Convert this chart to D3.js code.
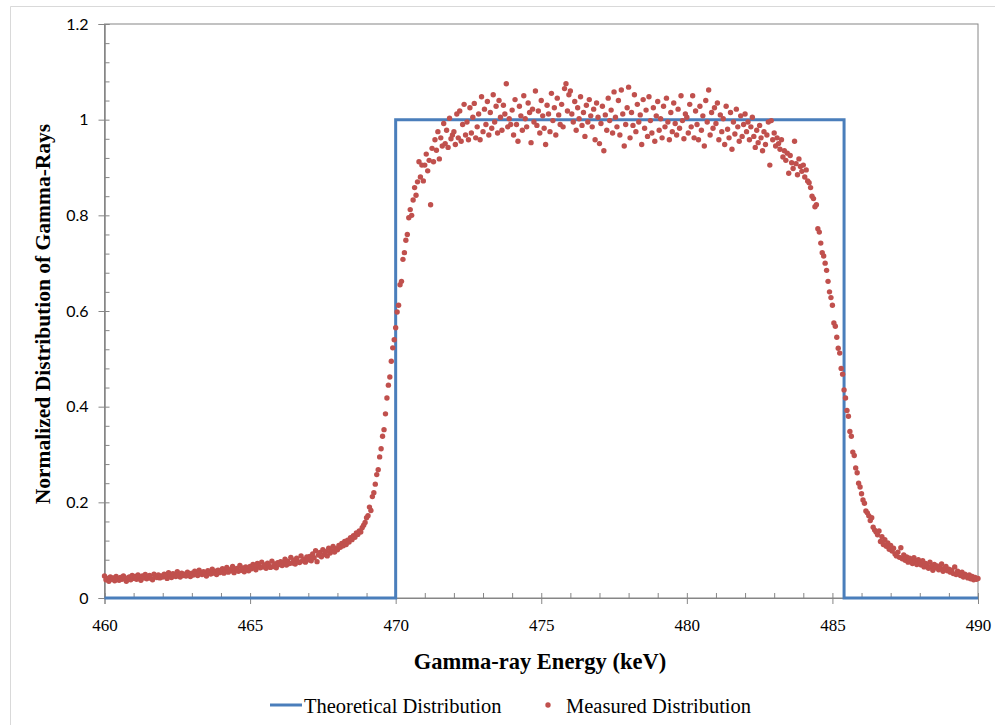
<!DOCTYPE html>
<html>
<head>
<meta charset="utf-8">
<script src="https://cdn.jsdelivr.net/npm/d3@7"></script>
<style>
  html, body { margin: 0; padding: 0; background: #fff; }
  svg { display: block; }
</style>
</head>
<body>
<svg id="chart" width="995" height="725"></svg>
<script>
// theoretical step distribution
const theoryEnergy = [460, 470, 470, 485.4, 485.4, 490];
const theoryValue = [0, 0, 1, 1, 0, 0];

// measured distribution, one row per keV
const measuredEnergy = [
  460, 460.05, 460.1, 460.15, 460.2, 460.25, 460.3, 460.35, 460.4, 460.45, 460.5, 460.55, 460.6, 460.65, 460.7, 460.75, 460.8, 460.85, 460.9, 460.95,
  461, 461.05, 461.1, 461.15, 461.2, 461.25, 461.3, 461.35, 461.4, 461.45, 461.5, 461.55, 461.6, 461.65, 461.7, 461.75, 461.8, 461.85, 461.9, 461.95,
  462, 462.05, 462.1, 462.15, 462.2, 462.25, 462.3, 462.35, 462.4, 462.45, 462.5, 462.55, 462.6, 462.65, 462.7, 462.75, 462.8, 462.85, 462.9, 462.95,
  463, 463.05, 463.1, 463.15, 463.2, 463.25, 463.3, 463.35, 463.4, 463.45, 463.5, 463.55, 463.6, 463.65, 463.7, 463.75, 463.8, 463.85, 463.9, 463.95,
  464, 464.05, 464.1, 464.15, 464.2, 464.25, 464.3, 464.35, 464.4, 464.45, 464.5, 464.55, 464.6, 464.65, 464.7, 464.75, 464.8, 464.85, 464.9, 464.95,
  465, 465.05, 465.1, 465.15, 465.2, 465.25, 465.3, 465.35, 465.4, 465.45, 465.5, 465.55, 465.6, 465.65, 465.7, 465.75, 465.8, 465.85, 465.9, 465.95,
  466, 466.05, 466.1, 466.15, 466.2, 466.25, 466.3, 466.35, 466.4, 466.45, 466.5, 466.55, 466.6, 466.65, 466.7, 466.75, 466.8, 466.85, 466.9, 466.95,
  467, 467.05, 467.1, 467.15, 467.2, 467.25, 467.3, 467.35, 467.4, 467.45, 467.5, 467.55, 467.6, 467.65, 467.7, 467.75, 467.8, 467.85, 467.9, 467.95,
  468, 468.05, 468.1, 468.15, 468.2, 468.25, 468.3, 468.35, 468.4, 468.45, 468.5, 468.55, 468.6, 468.65, 468.7, 468.75, 468.8, 468.85, 468.9, 468.95,
  469, 469.05, 469.1, 469.15, 469.2, 469.25, 469.3, 469.35, 469.4, 469.45, 469.5, 469.55, 469.6, 469.65, 469.7, 469.75, 469.8, 469.85, 469.9, 469.95,
  470, 470.05, 470.1, 470.15, 470.2, 470.25, 470.3, 470.35, 470.4, 470.45, 470.5, 470.55, 470.6, 470.65, 470.7, 470.75, 470.8, 470.85, 470.9, 470.95,
  471, 471.05, 471.1, 471.15, 471.2, 471.25, 471.3, 471.35, 471.4, 471.45, 471.5, 471.55, 471.6, 471.65, 471.7, 471.75, 471.8, 471.85, 471.9, 471.95,
  472, 472.05, 472.1, 472.15, 472.2, 472.25, 472.3, 472.35, 472.4, 472.45, 472.5, 472.55, 472.6, 472.65, 472.7, 472.75, 472.8, 472.85, 472.9, 472.95,
  473, 473.05, 473.1, 473.15, 473.2, 473.25, 473.3, 473.35, 473.4, 473.45, 473.5, 473.55, 473.6, 473.65, 473.7, 473.75, 473.8, 473.85, 473.9, 473.95,
  474, 474.05, 474.1, 474.15, 474.2, 474.25, 474.3, 474.35, 474.4, 474.45, 474.5, 474.55, 474.6, 474.65, 474.7, 474.75, 474.8, 474.85, 474.9, 474.95,
  475, 475.05, 475.1, 475.15, 475.2, 475.25, 475.3, 475.35, 475.4, 475.45, 475.5, 475.55, 475.6, 475.65, 475.7, 475.75, 475.8, 475.85, 475.9, 475.95,
  476, 476.05, 476.1, 476.15, 476.2, 476.25, 476.3, 476.35, 476.4, 476.45, 476.5, 476.55, 476.6, 476.65, 476.7, 476.75, 476.8, 476.85, 476.9, 476.95,
  477, 477.05, 477.1, 477.15, 477.2, 477.25, 477.3, 477.35, 477.4, 477.45, 477.5, 477.55, 477.6, 477.65, 477.7, 477.75, 477.8, 477.85, 477.9, 477.95,
  478, 478.05, 478.1, 478.15, 478.2, 478.25, 478.3, 478.35, 478.4, 478.45, 478.5, 478.55, 478.6, 478.65, 478.7, 478.75, 478.8, 478.85, 478.9, 478.95,
  479, 479.05, 479.1, 479.15, 479.2, 479.25, 479.3, 479.35, 479.4, 479.45, 479.5, 479.55, 479.6, 479.65, 479.7, 479.75, 479.8, 479.85, 479.9, 479.95,
  480, 480.05, 480.1, 480.15, 480.2, 480.25, 480.3, 480.35, 480.4, 480.45, 480.5, 480.55, 480.6, 480.65, 480.7, 480.75, 480.8, 480.85, 480.9, 480.95,
  481, 481.05, 481.1, 481.15, 481.2, 481.25, 481.3, 481.35, 481.4, 481.45, 481.5, 481.55, 481.6, 481.65, 481.7, 481.75, 481.8, 481.85, 481.9, 481.95,
  482, 482.05, 482.1, 482.15, 482.2, 482.25, 482.3, 482.35, 482.4, 482.45, 482.5, 482.55, 482.6, 482.65, 482.7, 482.75, 482.8, 482.85, 482.9, 482.95,
  483, 483.05, 483.1, 483.15, 483.2, 483.25, 483.3, 483.35, 483.4, 483.45, 483.5, 483.55, 483.6, 483.65, 483.7, 483.75, 483.8, 483.85, 483.9, 483.95,
  484, 484.05, 484.1, 484.15, 484.2, 484.25, 484.3, 484.35, 484.4, 484.45, 484.5, 484.55, 484.6, 484.65, 484.7, 484.75, 484.8, 484.85, 484.9, 484.95,
  485, 485.05, 485.1, 485.15, 485.2, 485.25, 485.3, 485.35, 485.4, 485.45, 485.5, 485.55, 485.6, 485.65, 485.7, 485.75, 485.8, 485.85, 485.9, 485.95,
  486, 486.05, 486.1, 486.15, 486.2, 486.25, 486.3, 486.35, 486.4, 486.45, 486.5, 486.55, 486.6, 486.65, 486.7, 486.75, 486.8, 486.85, 486.9, 486.95,
  487, 487.05, 487.1, 487.15, 487.2, 487.25, 487.3, 487.35, 487.4, 487.45, 487.5, 487.55, 487.6, 487.65, 487.7, 487.75, 487.8, 487.85, 487.9, 487.95,
  488, 488.05, 488.1, 488.15, 488.2, 488.25, 488.3, 488.35, 488.4, 488.45, 488.5, 488.55, 488.6, 488.65, 488.7, 488.75, 488.8, 488.85, 488.9, 488.95,
  489, 489.05, 489.1, 489.15, 489.2, 489.25, 489.3, 489.35, 489.4, 489.45, 489.5, 489.55, 489.6, 489.65, 489.7, 489.75, 489.8, 489.85, 489.9, 489.95,
  490
];

const measuredValue = [
  0.046, 0.038, 0.041, 0.035, 0.044, 0.039, 0.042, 0.036, 0.045, 0.040, 0.037, 0.043, 0.039, 0.046, 0.041, 0.035, 0.042, 0.044, 0.038, 0.047,
  0.041, 0.045, 0.039, 0.048, 0.043, 0.037, 0.046, 0.042, 0.049, 0.040, 0.044, 0.047, 0.041, 0.038, 0.050, 0.045, 0.043, 0.048, 0.042, 0.046,
  0.044, 0.050, 0.046, 0.041, 0.053, 0.047, 0.043, 0.051, 0.049, 0.045, 0.055, 0.048, 0.044, 0.052, 0.047, 0.050, 0.046, 0.054, 0.049, 0.045,
  0.052, 0.048, 0.056, 0.050, 0.047, 0.058, 0.053, 0.049, 0.055, 0.051, 0.046, 0.057, 0.054, 0.050, 0.060, 0.052, 0.056, 0.049, 0.058, 0.053,
  0.055, 0.061, 0.052, 0.058, 0.064, 0.054, 0.059, 0.057, 0.066, 0.053, 0.060, 0.062, 0.056, 0.068, 0.058, 0.063, 0.055, 0.065, 0.060, 0.057,
  0.066, 0.061, 0.070, 0.064, 0.059, 0.072, 0.067, 0.063, 0.075, 0.065, 0.069, 0.062, 0.073, 0.068, 0.064, 0.077, 0.066, 0.071, 0.063, 0.074,
  0.070, 0.076, 0.068, 0.074, 0.081, 0.069, 0.077, 0.072, 0.085, 0.073, 0.079, 0.071, 0.083, 0.076, 0.074, 0.088, 0.078, 0.081, 0.075, 0.086,
  0.080, 0.087, 0.078, 0.092, 0.084, 0.099, 0.076, 0.090, 0.095, 0.086, 0.101, 0.091, 0.097, 0.088, 0.104, 0.094, 0.099, 0.108, 0.096, 0.103,
  0.101, 0.110, 0.106, 0.114, 0.109, 0.118, 0.112, 0.121, 0.117, 0.126, 0.122, 0.130, 0.127, 0.136, 0.133, 0.140, 0.138, 0.147, 0.152, 0.158,
  0.168, 0.172, 0.190, 0.183, 0.212, 0.220, 0.238, 0.258, 0.268, 0.295, 0.312, 0.338, 0.352, 0.385, 0.418, 0.445, 0.462, 0.495, 0.523, 0.540,
  0.565, 0.598, 0.612, 0.655, 0.662, 0.708, 0.722, 0.748, 0.760, 0.795, 0.812, 0.800, 0.832, 0.858, 0.842, 0.870, 0.912, 0.880, 0.905, 0.872,
  0.905, 0.928, 0.893, 0.915, 0.822, 0.940, 0.912, 0.958, 0.936, 0.975, 0.918, 0.962, 0.945, 0.992, 0.950, 0.978, 0.942, 1.003, 0.960, 0.968,
  0.975, 0.948, 1.012, 0.962, 1.018, 0.955, 0.990, 1.032, 0.968, 0.995, 0.958, 1.025, 0.972, 1.005, 1.034, 0.962, 0.985, 1.012, 0.958, 1.048,
  0.975, 1.022, 0.990, 1.038, 0.968, 1.015, 0.982, 1.052, 0.995, 1.028, 0.972, 1.040, 1.005, 0.978, 1.030, 1.012, 1.075, 0.985, 1.002, 0.990,
  1.020, 0.968, 1.042, 0.990, 0.955, 1.028, 1.008, 0.978, 1.050, 1.002, 0.985, 1.035, 1.015, 0.952, 1.022, 0.995, 1.060, 0.988, 1.018, 0.972,
  1.040, 1.008, 0.982, 0.948, 1.030, 1.012, 0.975, 1.055, 0.998, 1.025, 0.968, 1.045, 1.010, 0.990, 1.032, 0.985, 1.065, 1.075, 1.018, 1.052,
  1.060, 1.012, 0.995, 1.038, 0.978, 1.025, 1.002, 1.048, 0.988, 1.015, 0.965, 1.030, 0.995, 1.042, 1.008, 0.985, 1.022, 0.958, 1.035, 1.005,
  0.950, 0.992, 1.028, 0.935, 1.010, 0.978, 1.045, 0.998, 1.020, 0.972, 1.058, 1.005, 0.985, 1.040, 0.968, 1.062, 1.012, 0.945, 0.990, 1.025,
  1.068, 0.962, 1.015, 0.988, 1.052, 0.975, 1.032, 0.995, 1.010, 0.948, 1.042, 0.982, 1.020, 0.965, 1.048, 0.998, 0.972, 1.025, 0.955, 1.008,
  1.038, 0.978, 1.002, 0.962, 1.028, 0.985, 1.045, 0.995, 0.958, 1.015, 0.975, 1.035, 0.992, 0.968, 1.022, 0.982, 1.050, 0.998, 0.960, 1.012,
  1.005, 0.972, 1.032, 0.985, 1.050, 0.962, 1.018, 0.990, 0.958, 1.028, 0.978, 1.008, 0.945, 1.040, 0.995, 1.062, 0.968, 1.015, 0.982, 1.025,
  0.992, 1.035, 0.958, 1.010, 0.975, 1.002, 0.948, 1.028, 0.980, 0.962, 1.015, 0.938, 0.995, 0.970, 1.022, 0.985, 0.955, 1.008, 0.965, 0.990,
  1.012, 0.975, 0.995, 0.958, 0.985, 1.005, 0.965, 0.942, 0.978, 0.952, 0.988, 0.962, 0.935, 0.975, 0.948, 0.968, 0.995, 0.905, 0.998, 0.958,
  0.972, 0.945, 0.962, 0.950, 0.938, 0.958, 0.922, 0.935, 0.915, 0.930, 0.888, 0.925, 0.910, 0.898, 0.955, 0.908, 0.885, 0.918, 0.902, 0.892,
  0.905, 0.880, 0.895, 0.872, 0.868, 0.858, 0.840, 0.835, 0.818, 0.822, 0.772, 0.765, 0.742, 0.722, 0.715, 0.700, 0.685, 0.662, 0.640, 0.628,
  0.612, 0.575, 0.568, 0.545, 0.522, 0.512, 0.480, 0.468, 0.435, 0.418, 0.392, 0.380, 0.348, 0.338, 0.305, 0.298, 0.272, 0.262, 0.240, 0.232,
  0.218, 0.205, 0.198, 0.182, 0.178, 0.172, 0.162, 0.168, 0.148, 0.142, 0.138, 0.132, 0.140, 0.118, 0.128, 0.112, 0.122, 0.108, 0.115, 0.102,
  0.110, 0.098, 0.104, 0.092, 0.088, 0.096, 0.085, 0.105, 0.082, 0.090, 0.079, 0.086, 0.075, 0.083, 0.078, 0.072, 0.084, 0.076, 0.070, 0.080,
  0.074, 0.069, 0.078, 0.065, 0.072, 0.068, 0.062, 0.075, 0.066, 0.058, 0.070, 0.063, 0.067, 0.059, 0.064, 0.071, 0.056, 0.062, 0.066, 0.057,
  0.060, 0.054, 0.058, 0.051, 0.065, 0.049, 0.056, 0.052, 0.047, 0.054, 0.044, 0.050, 0.046, 0.042, 0.048, 0.040, 0.045, 0.038, 0.043, 0.039,
  0.041
];

const xTicks = [460, 465, 470, 475, 480, 485, 490];
const yTicks = [0, 0.2, 0.4, 0.6, 0.8, 1, 1.2];
const xTitle = "Gamma-ray Energy (keV)";
const yTitle = "Normalized Distribution of Gamma-Rays";
const seriesNames = ["Theoretical Distribution", "Measured Distribution"];

const blue = "#4a7ebb";
const red = "#c0504d";
const axisGrey = "#868686";
const serif = "'Liberation Serif', 'Times New Roman', serif";

const svg = d3.select("#chart");
const width = 995, height = 725;
const margin = { top: 24, right: 17, bottom: 127, left: 104.5 };
const innerWidth = width - margin.left - margin.right;
const innerHeight = height - margin.top - margin.bottom;

// outer chart frame (right and bottom edges run past the picture)
svg.append("path")
  .attr("d", "M10.5,725V6.5H995")
  .attr("fill", "none")
  .attr("stroke", "#d9d9d9");

const xScale = d3.scaleLinear().domain([460, 490]).range([0, innerWidth]);
const yScale = d3.scaleLinear().domain([0, 1.2]).range([innerHeight, 0]);

const g = svg.append("g")
  .attr("transform", `translate(${margin.left},${margin.top})`);

// plot frame
g.append("rect")
  .attr("width", innerWidth).attr("height", innerHeight)
  .attr("fill", "none")
  .attr("stroke", axisGrey);

// minor ticks (inside)
const xMinor = g.append("g")
  .attr("transform", `translate(0,${innerHeight})`)
  .call(d3.axisTop(xScale).ticks(30).tickSize(5).tickFormat(""));
const yMinor = g.append("g")
  .call(d3.axisRight(yScale).tickValues(d3.range(0, 1.201, 0.04)).tickSize(5).tickFormat(""));
xMinor.selectAll("text").remove();
yMinor.selectAll("text").remove();

// major axes (outside)
const xAxis = g.append("g")
  .attr("transform", `translate(0,${innerHeight})`)
  .call(d3.axisBottom(xScale).tickValues(xTicks).tickSize(6).tickPadding(15).tickFormat(d3.format("d")));
const yAxis = g.append("g")
  .call(d3.axisLeft(yScale).tickValues(yTicks).tickSize(6).tickPadding(10).tickFormat(d => String(d)));

[xMinor, yMinor, xAxis, yAxis].forEach(a => {
  a.select(".domain").attr("stroke", axisGrey);
  a.selectAll(".tick line").attr("stroke", axisGrey);
});
xAxis.selectAll("text")
  .attr("fill", "#000")
  .style("font-family", serif)
  .style("font-size", "17px");
yAxis.selectAll("text")
  .attr("fill", "#000")
  .style("font-family", "Lato, 'Open Sans', sans-serif")
  .style("font-size", "16px");

// theoretical step line
const theory = theoryEnergy.map((e, i) => [e, theoryValue[i]]);
g.append("path")
  .datum(theory)
  .attr("fill", "none")
  .attr("stroke", blue)
  .attr("stroke-width", 3)
  .attr("d", d3.line().x(d => xScale(d[0])).y(d => yScale(d[1])));

// measured points
const measured = measuredEnergy.map((e, i) => [e, measuredValue[i]]);
g.selectAll("circle.m")
  .data(measured)
  .join("circle")
  .attr("class", "m")
  .attr("cx", d => xScale(d[0]))
  .attr("cy", d => yScale(d[1]))
  .attr("r", 2.7)
  .attr("fill", red);

// axis titles
svg.append("text")
  .attr("x", 540)
  .attr("y", 669)
  .attr("text-anchor", "middle")
  .style("font-family", serif)
  .style("font-weight", "bold")
  .style("font-size", "22.5px")
  .text(xTitle);

svg.append("text")
  .attr("transform", `translate(50,${314}) rotate(-90)`)
  .attr("text-anchor", "middle")
  .style("font-family", serif)
  .style("font-weight", "bold")
  .style("font-size", "21.5px")
  .text(yTitle);

// legend
const legend = svg.append("g").attr("transform", "translate(270,705)");
legend.append("line")
  .attr("x1", 0).attr("x2", 32)
  .attr("stroke", blue).attr("stroke-width", 3);
legend.append("text")
  .attr("x", 34).attr("y", 8)
  .style("font-family", serif)
  .style("font-size", "20.5px")
  .text(seriesNames[0]);
legend.append("circle")
  .attr("cx", 278).attr("cy", 0).attr("r", 2.7)
  .attr("fill", red);
legend.append("text")
  .attr("x", 296).attr("y", 8)
  .style("font-family", serif)
  .style("font-size", "20.5px")
  .text(seriesNames[1]);
</script>
</body>
</html>
